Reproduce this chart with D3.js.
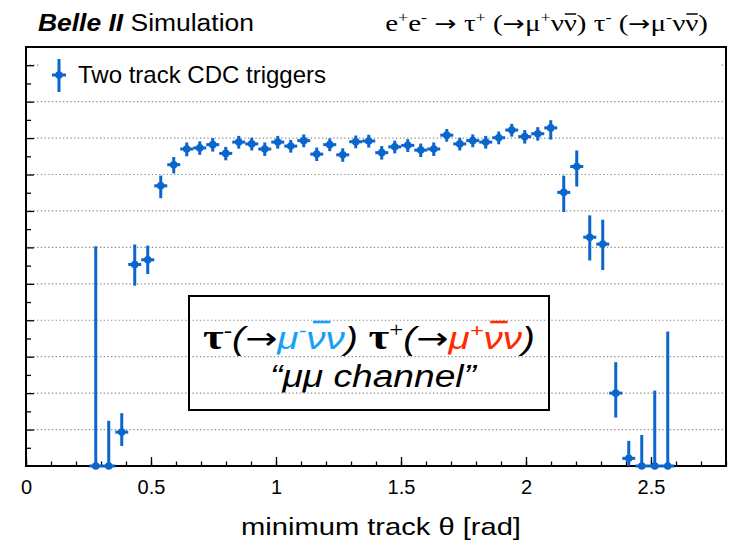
<!DOCTYPE html>
<html>
<head>
<meta charset="utf-8">
<script src="https://cdn.jsdelivr.net/npm/d3@7/dist/d3.min.js"></script>
<style>
  body { margin: 0; background: #fff; }
  svg { display: block; }
</style>
</head>
<body>
<script>
// Bin centres of minimum track theta [rad]
const thetaBins = [
  0.279, 0.331, 0.383, 0.435, 0.487, 0.539, 0.591, 0.643, 0.695, 0.747,
  0.799, 0.851, 0.903, 0.955, 1.007, 1.059, 1.111, 1.163, 1.215, 1.267,
  1.319, 1.371, 1.423, 1.475, 1.527, 1.579, 1.631, 1.683, 1.735, 1.787,
  1.839, 1.891, 1.943, 1.995, 2.047, 2.099, 2.151, 2.203, 2.255, 2.307,
  2.359, 2.411, 2.463, 2.515, 2.567
];
// Trigger efficiency per bin
const efficiency = [
  0.000, 0.000, 0.093, 0.553, 0.566, 0.769, 0.827, 0.870, 0.873, 0.882,
  0.858, 0.889, 0.884, 0.870, 0.889, 0.878, 0.893, 0.856, 0.882, 0.854,
  0.890, 0.892, 0.860, 0.876, 0.880, 0.867, 0.870, 0.908, 0.884, 0.893,
  0.889, 0.901, 0.922, 0.904, 0.912, 0.928, 0.751, 0.822, 0.628, 0.609,
  0.200, 0.021, 0.000, 0.000, 0.000
];
// Asymmetric uncertainties (down / up)
const errDown = [
  0.000, 0.000, 0.038, 0.058, 0.039, 0.034, 0.024, 0.020, 0.019, 0.019,
  0.019, 0.018, 0.018, 0.019, 0.018, 0.018, 0.018, 0.019, 0.018, 0.019,
  0.018, 0.018, 0.019, 0.018, 0.018, 0.019, 0.019, 0.018, 0.018, 0.018,
  0.018, 0.018, 0.018, 0.019, 0.019, 0.032, 0.054, 0.055, 0.064, 0.071,
  0.067, 0.021, 0.000, 0.000, 0.000
];
const errUp = [
  0.603, 0.124, 0.052, 0.055, 0.039, 0.028, 0.021, 0.018, 0.018, 0.018,
  0.018, 0.017, 0.017, 0.018, 0.017, 0.017, 0.017, 0.018, 0.017, 0.018,
  0.017, 0.017, 0.018, 0.017, 0.017, 0.018, 0.018, 0.017, 0.017, 0.017,
  0.017, 0.017, 0.017, 0.018, 0.018, 0.021, 0.046, 0.044, 0.060, 0.067,
  0.085, 0.048, 0.085, 0.207, 0.369
];
const binHalfWidth = 0.026;

const xDomain = [0, 2.8];
const yDomain = [0, 1.15];
const xMajorTicks = [0, 0.5, 1, 1.5, 2, 2.5];
const xTickLabels = ["0", "0.5", "1", "1.5", "2", "2.5"];
const yMajorTicks = [0.1, 0.2, 0.3, 0.4, 0.5, 0.6, 0.7, 0.8, 0.9, 1.0, 1.1];
const yMinorTicks = [0.05, 0.15, 0.25, 0.35, 0.45, 0.55, 0.65, 0.75, 0.85, 0.95, 1.05];

const legendLabel = "Two track CDC triggers";
const xTitle = "minimum track \u03b8 [rad]";

const W = 738, H = 542;
const frame = { left: 26, right: 726, top: 47, bottom: 466 };
const BLUE = "#0a66cc";
const SANS = "'Liberation Sans', Arial, Helvetica, sans-serif";
const SERIF = "'Liberation Serif', 'Times New Roman', serif";
const ARROW = "'DejaVu Sans', sans-serif";

const svg = d3.select("body").append("svg").attr("width", W).attr("height", H);
svg.append("rect").attr("width", W).attr("height", H).attr("fill", "#fff");

const x = d3.scaleLinear().domain(xDomain).range([frame.left, frame.right]);
const y = d3.scaleLinear().domain(yDomain).range([frame.bottom, frame.top]);

// horizontal dotted grid
svg.append("g").selectAll("line").data(yMajorTicks).join("line")
  .attr("x1", frame.left).attr("x2", frame.right)
  .attr("y1", d => y(d)).attr("y2", d => y(d))
  .attr("stroke", "#8a8a8a").attr("stroke-width", 1.2)
  .attr("stroke-dasharray", "1.3,2.4");

// legend background (white, borderless)
svg.append("rect").attr("x", 40).attr("y", 54).attr("width", 680).attr("height", 40).attr("fill", "#fff");

// axes: ticks drawn inward
const axisStyle = g => {
  g.select(".domain").remove();
  g.selectAll(".tick line").attr("stroke", "#000").attr("stroke-width", 1.3);
};
svg.append("g").attr("transform", `translate(0,${frame.bottom})`)
  .call(d3.axisBottom(x).tickValues(d3.range(0, 2.81, 0.1)).tickSize(-4.5).tickFormat(""))
  .call(axisStyle);
svg.append("g").attr("transform", `translate(0,${frame.bottom})`)
  .call(d3.axisBottom(x).tickValues(xMajorTicks).tickSize(-9).tickPadding(14)
    .tickFormat((d, i) => xTickLabels[i]))
  .call(axisStyle)
  .call(g => g.selectAll(".tick text").attr("font-family", SANS).attr("font-size", 20).attr("fill", "#000"));
svg.append("g").attr("transform", `translate(${frame.left},0)`)
  .call(d3.axisLeft(y).tickValues(yMinorTicks).tickSize(-5).tickFormat(""))
  .call(axisStyle);
svg.append("g").attr("transform", `translate(${frame.left},0)`)
  .call(d3.axisLeft(y).tickValues(yMajorTicks).tickSize(-8).tickFormat(""))
  .call(axisStyle);

// frame
svg.append("rect").attr("x", frame.left).attr("y", frame.top)
  .attr("width", frame.right - frame.left).attr("height", frame.bottom - frame.top)
  .attr("fill", "none").attr("stroke", "#000").attr("stroke-width", 2);

// data points with error bars
const pts = thetaBins.map((t, i) => ({ t, v: efficiency[i], lo: errDown[i], hi: errUp[i] }));
const pg = svg.append("g").selectAll("g").data(pts).join("g");
pg.append("line")
  .attr("x1", d => x(d.t - binHalfWidth)).attr("x2", d => x(d.t + binHalfWidth))
  .attr("y1", d => y(d.v)).attr("y2", d => y(d.v))
  .attr("stroke", BLUE).attr("stroke-width", 3);
pg.append("line")
  .attr("x1", d => x(d.t)).attr("x2", d => x(d.t))
  .attr("y1", d => y(d.v - d.lo)).attr("y2", d => y(d.v + d.hi))
  .attr("stroke", BLUE).attr("stroke-width", 3);
pg.append("circle").attr("cx", d => x(d.t)).attr("cy", d => y(d.v)).attr("r", 3.8).attr("fill", BLUE);

// legend entry
const lg = svg.append("g");
lg.append("line").attr("x1", 59).attr("x2", 59).attr("y1", 59).attr("y2", 92).attr("stroke", BLUE).attr("stroke-width", 3);
lg.append("line").attr("x1", 52).attr("x2", 66).attr("y1", 75).attr("y2", 75).attr("stroke", BLUE).attr("stroke-width", 3);
lg.append("circle").attr("cx", 59).attr("cy", 75).attr("r", 3.8).attr("fill", BLUE);
lg.append("text").attr("x", 78).attr("y", 83).attr("font-family", SANS).attr("font-size", 24).attr("fill", "#000").text(legendLabel);

// rich text helper: segments with superscripts and overlines, drawn at (0,0) of group g
function richText(g, anchor, segs) {
  const text = g.append("text").attr("x", 0).attr("y", 0).attr("text-anchor", anchor);
  let shift = 0;
  const spans = [];
  segs.forEach(s => {
    const ts = text.append("tspan").text(s.t)
      .attr("font-family", s.family).attr("font-size", s.size)
      .attr("font-style", s.style || "normal").attr("font-weight", s.weight || "normal")
      .attr("fill", s.fill || "#000");
    const target = s.sup ? -s.sup : 0;
    if (target !== shift) { ts.attr("dy", target - shift); shift = target; }
    spans.push([ts, s]);
  });
  spans.forEach(([ts, s]) => {
    if (!s.bar) return;
    const ext = ts.node().getExtentOfChar(0);
    const slant = s.style === "italic" ? s.size * 0.14 : 0;
    g.append("line")
      .attr("x1", ext.x + slant + 1).attr("x2", ext.x + ext.width + slant - 0.5)
      .attr("y1", -s.bar).attr("y2", -s.bar)
      .attr("stroke", s.fill || "#000").attr("stroke-width", s.barW || 1.5);
  });
  return text;
}
// place a group at (px,py) and stretch it horizontally to a given width
function fitGroup(g, text, px, py, width) {
  const w = text.node().getBBox().width;
  g.attr("transform", `translate(${px},${py}) scale(${width / w},1)`);
}

// experiment label
const gTitle = svg.append("g");
const tTitle = richText(gTitle, "start", [
  { t: "Belle II", family: SANS, size: 23, style: "italic", weight: "bold" },
  { t: " Simulation", family: SANS, size: 23 }
]);
fitGroup(gTitle, tTitle, 38, 31, 216);

// process label
const P = { family: SERIF, size: 24 };
const Pa = { family: ARROW, size: 22 };
const Ps = { family: SERIF, size: 15, sup: 9 };
const gProc = svg.append("g");
const tProc = richText(gProc, "end", [
  { ...P, t: "e" }, { ...Ps, t: "+" }, { ...P, t: "e" }, { ...Ps, t: "-" },
  { ...P, t: " " }, { ...Pa, t: "\u2192" }, { ...P, t: " \u03c4" }, { ...Ps, t: "+" },
  { ...P, t: " (" }, { ...Pa, t: "\u2192" }, { ...P, t: "\u03bc" }, { ...Ps, t: "+" },
  { ...P, t: "\u03bd" }, { ...P, t: "\u03bd", bar: 17, barW: 1.5 },
  { ...P, t: ") \u03c4" }, { ...Ps, t: "-" },
  { ...P, t: " (" }, { ...Pa, t: "\u2192" }, { ...P, t: "\u03bc" }, { ...Ps, t: "-" },
  { ...P, t: "\u03bd" }, { ...P, t: "\u03bd", bar: 17, barW: 1.5 },
  { ...P, t: ")" }
]);
fitGroup(gProc, tProc, 708, 31, 323);

// channel annotation box
const LB = "#18a0f5", RD = "#ff2a00";
const box = svg.append("g");
box.append("rect").attr("x", 189).attr("y", 296).attr("width", 360).attr("height", 114)
  .attr("fill", "none").attr("stroke", "#000").attr("stroke-width", 2);
const T = { family: SERIF, size: 36, weight: "bold" };
const Ts = { family: SERIF, size: 20, sup: 12 };
const I = { family: SANS, size: 31, style: "italic" };
const Is = { family: SANS, size: 19, style: "italic", sup: 12 };
const A = { family: ARROW, size: 31 };
const gLine1 = box.append("g");
const tLine1 = richText(gLine1, "middle", [
  { ...T, t: "\u03c4" }, { ...Ts, t: "-" },
  { ...I, t: "(" }, { ...A, t: "\u2192" },
  { ...I, t: "\u03bc", fill: LB }, { ...Is, t: "-", fill: LB },
  { ...I, t: "\u03bd", fill: LB, bar: 27, barW: 2.6 }, { ...I, t: "\u03bd", fill: LB },
  { ...I, t: ") " },
  { ...T, t: "\u03c4" }, { ...Ts, t: "+" },
  { ...I, t: "(" }, { ...A, t: "\u2192" },
  { ...I, t: "\u03bc", fill: RD }, { ...Is, t: "+", fill: RD },
  { ...I, t: "\u03bd", fill: RD, bar: 27, barW: 2.6 }, { ...I, t: "\u03bd", fill: RD },
  { ...I, t: ")" }
]);
fitGroup(gLine1, tLine1, 369, 349, 332);
const gLine2 = box.append("g");
const tLine2 = richText(gLine2, "middle", [
  { family: SANS, size: 31, style: "italic", t: "\u201c\u03bc\u03bc channel\u201d" }
]);
fitGroup(gLine2, tLine2, 373, 387, 208);

// x-axis title
const gXT = svg.append("g");
const tXT = richText(gXT, "middle", [{ family: SANS, size: 24, t: xTitle }]);
fitGroup(gXT, tXT, 381, 535, 280);
</script>
</body>
</html>
